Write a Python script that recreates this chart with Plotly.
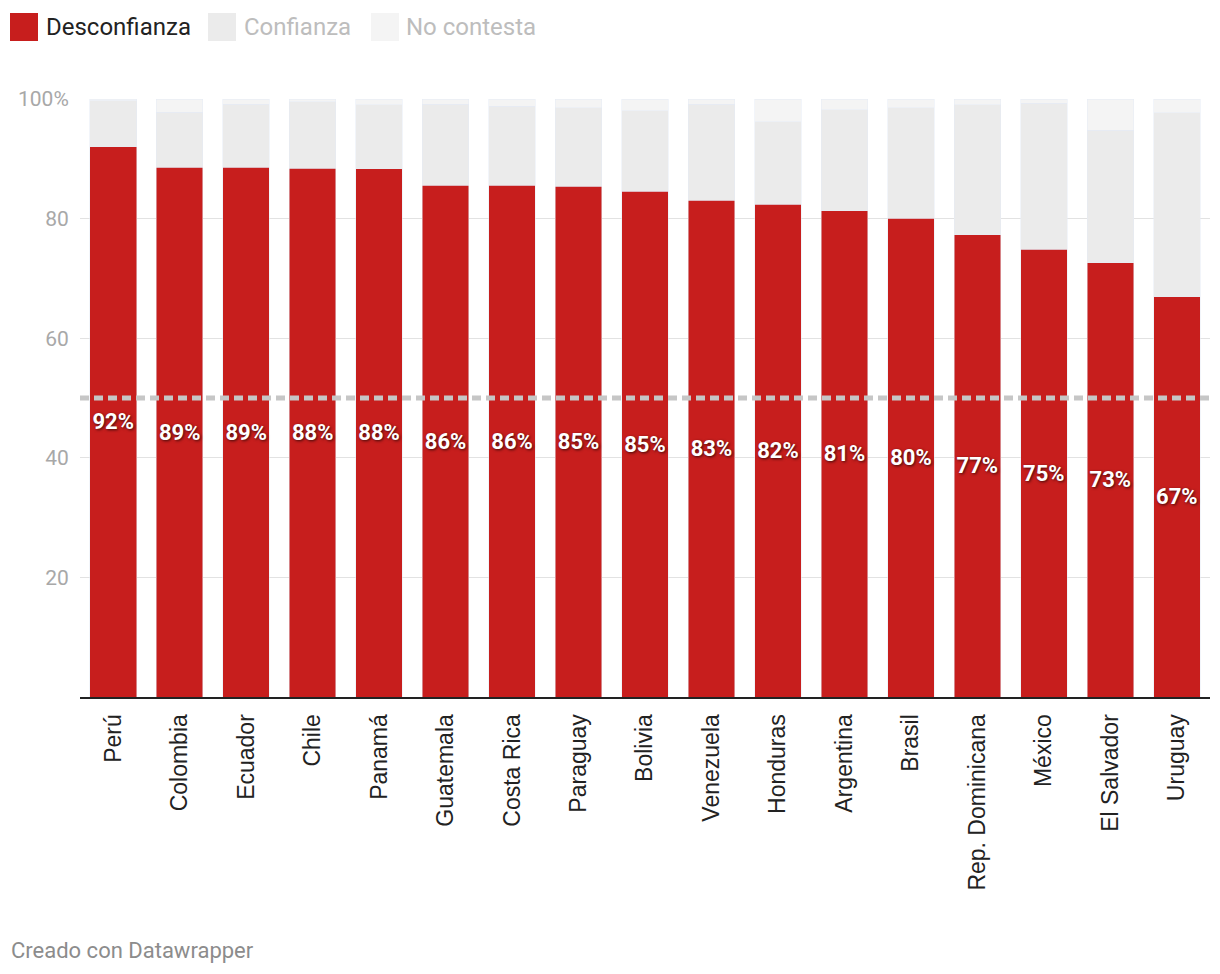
import plotly.graph_objects as go

countries = ["Perú", "Colombia", "Ecuador", "Chile", "Panamá", "Guatemala", "Costa Rica",
             "Paraguay", "Bolivia", "Venezuela", "Honduras", "Argentina", "Brasil",
             "Rep. Dominicana", "México", "El Salvador", "Uruguay"]
desconfianza = [92.0, 88.6, 88.6, 88.4, 88.3, 85.6, 85.6, 85.4, 84.6, 83.1, 82.4, 81.3, 80.1, 77.3, 74.9, 72.6, 66.9]
confianza = [7.7, 9.2, 10.5, 11.1, 10.7, 13.5, 13.2, 13.1, 13.4, 16.0, 13.8, 16.9, 18.4, 21.7, 24.4, 22.2, 30.8]
no_contesta = [0.3, 2.2, 0.9, 0.5, 1.0, 0.9, 1.2, 1.5, 2.0, 0.9, 3.8, 1.8, 1.5, 1.0, 0.7, 5.2, 2.3]
y_ticks = [20, 40, 60, 80, 100]
y_ticktext = ["20", "40", "60", "80", "100%"]
reference_line = 50

RED = "#c71e1d"
GRAY1 = "#ebebeb"
GRAY2 = "#f4f4f4"

W, H = 1220, 974
ML, MR, MT, MB = 80, 10, 99, 277
PW = W - ML - MR
PH = H - MT - MB

def px_x(p):
    return (p - ML) / PW

def px_y(p):
    return (H - MB - p) / PH

fig = go.Figure()
fig.add_trace(go.Bar(
    x=countries, y=desconfianza, name="Desconfianza", marker_color=RED,
    texttemplate="%{y:.0f}%", textposition="inside", insidetextanchor="middle",
    textangle=0, constraintext="none",
    textfont=dict(family="Roboto", size=22, color="white", weight="bold",
                  shadow="1px 1px 3px rgba(0,0,0,0.7)"),
    hoverinfo="skip",
))
fig.add_trace(go.Bar(x=countries, y=confianza, name="Confianza", marker_color=GRAY1, hoverinfo="skip"))
fig.add_trace(go.Bar(x=countries, y=no_contesta, name="No contesta", marker_color=GRAY2, hoverinfo="skip"))

fig.add_shape(type="line", xref="paper", yref="y", x0=0, x1=1, y0=reference_line, y1=reference_line,
              line=dict(color="#c6c6c6", width=5, dash="9px,5px"), layer="above")

# custom legend
legend_items = [("Desconfianza", RED, "#222222", 10, 44),
                ("Confianza", GRAY1, "#bdbdbd", 208, 242),
                ("No contesta", GRAY2, "#bdbdbd", 371, 404)]
for name, col, tcol, sx, tx in legend_items:
    fig.add_shape(type="rect", xref="paper", yref="paper",
                  x0=px_x(sx), x1=px_x(sx + 28), y0=px_y(41), y1=px_y(13),
                  fillcolor=col, line_width=0, layer="above")
    fig.add_annotation(text=name, xref="paper", yref="paper", x=px_x(tx), y=px_y(27),
                       xanchor="left", yanchor="middle", showarrow=False,
                       font=dict(family="Roboto", size=24, color=tcol))

fig.add_annotation(text="Creado con Datawrapper", xref="paper", yref="paper",
                   x=px_x(9), y=px_y(950), xanchor="left", yanchor="middle", showarrow=False,
                   font=dict(family="Roboto", size=22, color="#8c8c8c"))

fig.update_layout(
    width=W, height=H, barmode="stack", bargap=0.3,
    margin=dict(l=ML, r=MR, t=MT, b=MB, autoexpand=False),
    plot_bgcolor="white", paper_bgcolor="white", showlegend=False,
    font=dict(family="Roboto"),
)
fig.update_xaxes(
    tickangle=-90, showline=True, linecolor="#222222", linewidth=2,
    ticks="outside", ticklen=6, tickcolor="rgba(0,0,0,0)",
    tickfont=dict(family="Liberation Sans", size=23, color="#222222"),
    showgrid=False,
)
fig.update_yaxes(
    range=[0, 100], tickvals=y_ticks, ticktext=y_ticktext,
    showgrid=True, gridcolor="#e2e2e2", gridwidth=1, zeroline=False,
    tickfont=dict(family="Roboto", size=21, color="#a8a8a8"),
    ticks="outside", ticklen=6, tickcolor="rgba(0,0,0,0)",
)

fig.write_html("out.html", config={"displayModeBar": False},
               post_script="document.body.style.margin='0';document.body.style.overflow='hidden';")
